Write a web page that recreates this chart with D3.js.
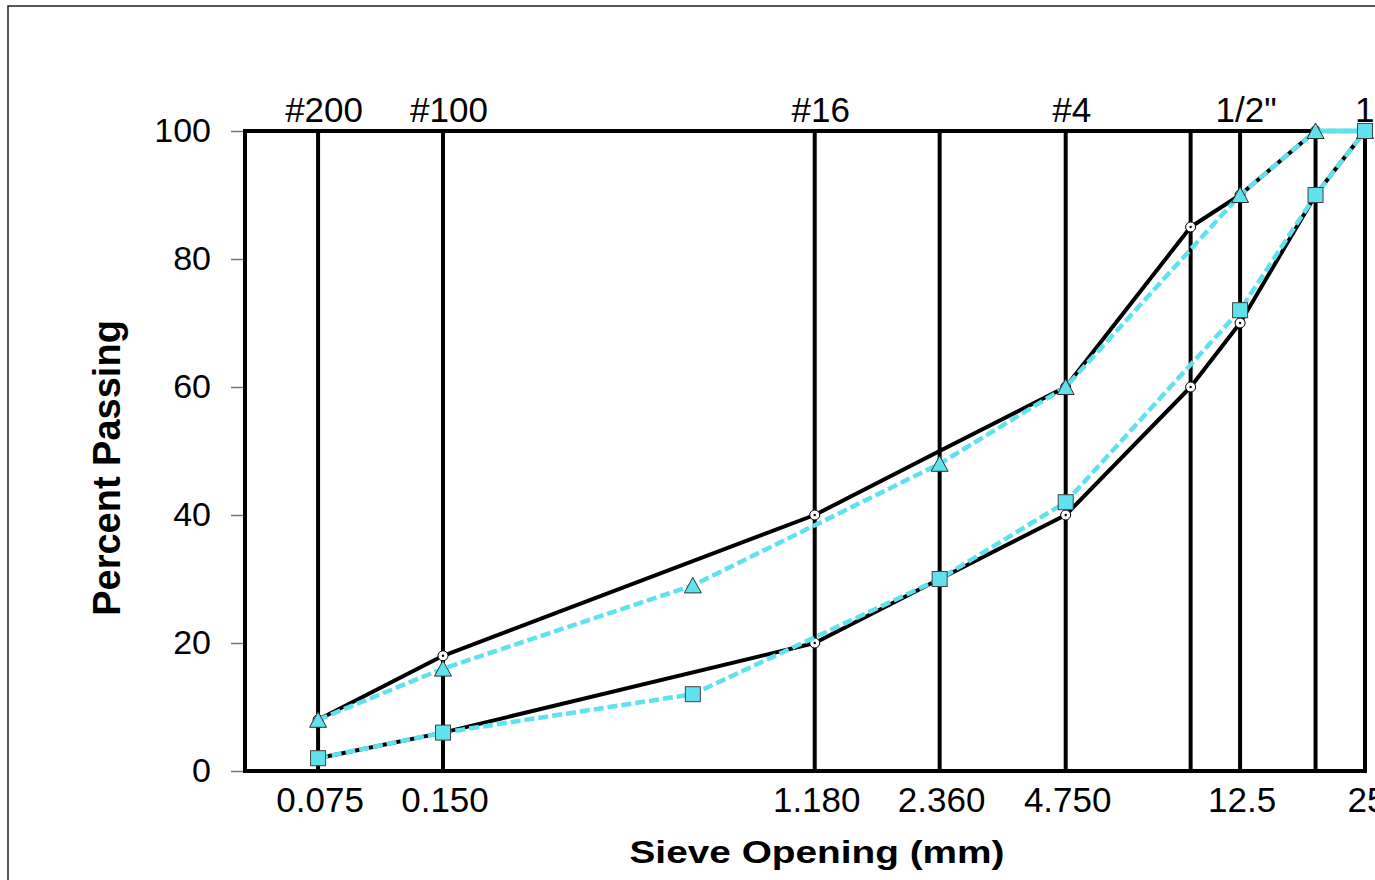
<!DOCTYPE html>
<html>
<head>
<meta charset="utf-8">
<script src="https://cdn.jsdelivr.net/npm/d3@7"></script>
<style>
  html, body { margin: 0; padding: 0; background: #fff; }
  svg { display: block; }
  text { font-family: "Liberation Sans", Arial, sans-serif; fill: #000; }
</style>
</head>
<body>
<svg id="chart" width="1375" height="880"></svg>
<script>
// sieve sizes (mm) and percent passing, null = no point
var sieves    = [0.075, 0.15, 0.6, 1.18, 2.36, 4.75, 9.5, 12.5, 19, 25];
var upperBand = [8, 18, null, 40, 50, 60, 85, 90, 100, 100];
var lowerBand = [2, 6, null, 20, 30, 40, 60, 70, 90, 100];
var upperDot  = [1, 1, 0, 1, 0, 1, 1, 1, 1, 1];
var lowerDot  = [1, 1, 0, 1, 1, 1, 1, 1, 1, 1];
var triBlend  = [8, 16, 29, null, 48, 60, null, 90, 100, 100];
var sqBlend   = [2, 6, 12, null, 30, 42, null, 72, 90, 100];

var gridSieves   = [0.075, 0.15, 1.18, 2.36, 4.75, 9.5, 12.5, 19, 25];
var bottomSizes  = [0.075, 0.15, 1.18, 2.36, 4.75, 12.5, 25];
var bottomLabels = ["0.075", "0.150", "1.180", "2.360", "4.750", "12.5", "25"];
var topSizes     = [0.075, 0.15, 1.18, 4.75, 12.5, 25];
var topLabels    = ["#200", "#100", "#16", "#4", "1/2\"", "1\""];
var yTicks       = [0, 20, 40, 60, 80, 100];

var cyan = '#5fe2ee';

var svg = d3.select('#chart');
var x = d3.scaleLog().domain([0.05, 25]).range([245, 1365]);
var y = d3.scaleLinear().domain([0, 100]).range([771, 131]);

function pts(vals) {
    return sieves.map(function (s, i) { return {s: s, v: vals[i], i: i}; })
                 .filter(function (d) { return d.v != null; });
}
var line = d3.line().x(function (d) { return x(d.s); }).y(function (d) { return y(d.v); });

// outer frame
svg.append('path').attr('d', 'M 8 880 L 8 6 L 1375 6')
   .attr('fill', 'none').attr('stroke', '#222').attr('stroke-width', 1.5);

// vertical sieve lines
svg.selectAll('.grid').data(gridSieves).enter().append('line')
   .attr('x1', function (d) { return x(d); }).attr('x2', function (d) { return x(d); })
   .attr('y1', y(100)).attr('y2', y(0))
   .attr('stroke', 'black').attr('stroke-width', 4);

// plot box (left, top, bottom)
svg.append('line').attr('x1', x(0.05)).attr('x2', x(0.05)).attr('y1', y(100) - 2).attr('y2', y(0) + 2)
   .attr('stroke', 'black').attr('stroke-width', 4);
svg.append('line').attr('x1', x(0.05) - 2).attr('x2', x(25)).attr('y1', y(100)).attr('y2', y(100))
   .attr('stroke', 'black').attr('stroke-width', 4);
svg.append('line').attr('x1', x(0.05) - 2).attr('x2', x(25) + 2).attr('y1', y(0)).attr('y2', y(0))
   .attr('stroke', 'black').attr('stroke-width', 4);

// y ticks
var yAxis = svg.append('g').attr('transform', 'translate(' + (x(0.05) - 2) + ',0)')
   .call(d3.axisLeft(y).tickValues(yTicks).tickSize(12).tickPadding(20));
yAxis.select('.domain').remove();
yAxis.selectAll('line').attr('stroke', '#777').attr('stroke-width', 1.5);
yAxis.selectAll('text').attr('font-size', 34).attr('font-family', '"Liberation Sans", Arial, sans-serif');

// bottom labels
svg.selectAll('.blab').data(bottomSizes).enter().append('text')
   .attr('x', function (d) { return x(d) + 2; }).attr('y', 812)
   .attr('text-anchor', 'middle').attr('font-size', 35)
   .text(function (d, i) { return bottomLabels[i]; });

// top labels
svg.selectAll('.tlab').data(topSizes).enter().append('text')
   .attr('x', function (d) { return x(d) + 6; }).attr('y', 122)
   .attr('text-anchor', 'middle').attr('font-size', 35)
   .text(function (d, i) { return topLabels[i]; });

// axis titles
svg.append('text').attr('x', 817).attr('y', 863).attr('text-anchor', 'middle')
   .attr('font-size', 31).attr('font-weight', 'bold')
   .attr('textLength', 375).attr('lengthAdjust', 'spacingAndGlyphs')
   .text('Sieve Opening (mm)');
svg.append('text').attr('transform', 'translate(120,468) rotate(-90)').attr('text-anchor', 'middle')
   .attr('font-size', 38).attr('font-weight', 'bold')
   .text('Percent Passing');

// band lines (black)
[upperBand, lowerBand].forEach(function (b) {
    svg.append('path').attr('d', line(pts(b)))
       .attr('fill', 'none').attr('stroke', 'black').attr('stroke-width', 4).attr('stroke-linejoin', 'round');
});
[[upperBand, upperDot], [lowerBand, lowerDot]].forEach(function (p) {
    var dots = pts(p[0]).filter(function (d) { return p[1][d.i]; });
    svg.selectAll(null).data(dots).enter().append('circle')
       .attr('cx', function (d) { return x(d.s); }).attr('cy', function (d) { return y(d.v); })
       .attr('r', 5).attr('fill', 'white').attr('stroke', 'black').attr('stroke-width', 1);
    svg.selectAll(null).data(dots).enter().append('circle')
       .attr('cx', function (d) { return x(d.s); }).attr('cy', function (d) { return y(d.v); })
       .attr('r', 1.2).attr('fill', 'black');
});

// blend lines (cyan dashed)
[triBlend, sqBlend].forEach(function (b) {
    svg.append('path').attr('d', line(pts(b)))
       .attr('fill', 'none').attr('stroke', cyan).attr('stroke-width', 4.5)
       .attr('stroke-dasharray', '10,4');
});
svg.append('path').attr('d', line(pts(triBlend).slice(-2)))
   .attr('fill', 'none').attr('stroke', cyan).attr('stroke-width', 5);

// markers
svg.selectAll('.tri').data(pts(triBlend)).enter().append('path')
   .attr('transform', function (d) { return 'translate(' + x(d.s) + ',' + y(d.v) + ')'; })
   .attr('d', 'M0,-8 L8.5,7.5 L-8.5,7.5 Z')
   .attr('fill', cyan).attr('stroke', '#333').attr('stroke-width', 1);
svg.selectAll('.sq').data(pts(sqBlend)).enter().append('rect')
   .attr('x', function (d) { return x(d.s) - 7.5; }).attr('y', function (d) { return y(d.v) - 7.5; })
   .attr('width', 15).attr('height', 15)
   .attr('fill', cyan).attr('stroke', '#444').attr('stroke-width', 1);
</script>
</body>
</html>
